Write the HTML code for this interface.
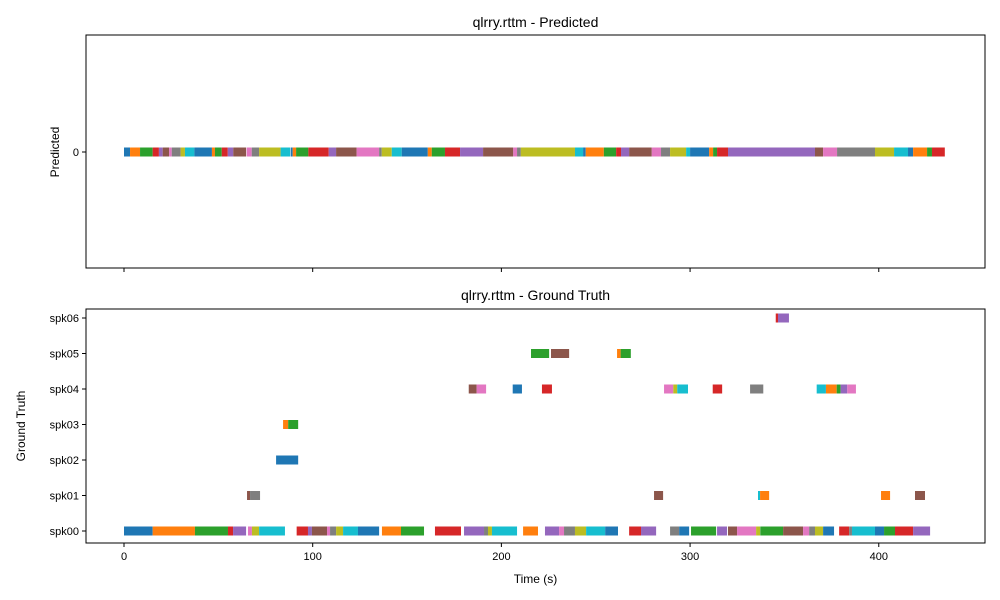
<!DOCTYPE html>
<html><head><meta charset="utf-8"><style>
body{margin:0;background:#fff;}
svg{font-family:"Liberation Sans","DejaVu Sans",sans-serif;display:block}
</style></head><body>
<svg id="chart" width="1000" height="600" viewBox="0 0 1000 600" xmlns="http://www.w3.org/2000/svg"></svg>
<script>
const predStart=[0,3.2,8.5,15.2,18.5,20.5,23.9,25.3,30,32.3,37.3,46.6,48.2,51.8,55,57.9,65,67.7,71.6,83,88.3,89.4,91.2,97.7,108.5,112.4,123.3,135.2,136.6,141.9,147.2,161,163.1,170.1,178.1,190.3,206.3,208.3,210.3,239,243.3,244.7,254.3,260.8,263.4,267.7,279.7,284.6,289.4,297.9,300,310.1,312.2,314.3,320.1,366.2,370.5,377.9,398,408.1,415.5,418.2,425.6,428.2];
const predEnd=[3.2,8.5,15.2,18.5,20.5,23.9,25.3,30,32.3,37.3,46.6,48.2,51.8,55,57.9,64.7,67.7,71.6,83,88,89.4,91.2,97.7,108.5,112.4,123.3,135.2,136.6,141.9,147.2,161,163.1,170.1,178.1,190.3,206.3,208.3,210.3,239,243.3,244.7,254.3,260.8,263.4,267.7,279.7,284.6,289.4,297.9,300,310.1,312.2,314.3,320.1,366.2,370.5,377.9,398,408.1,415.5,418.2,425.6,428.2,435];
const speakers=["spk00","spk01","spk02","spk03","spk04","spk05","spk06"];
const gtSpk=[
0,0,0,0,0,0,0,0,0,0,
0,0,0,0,0,0,0,0,0,0,
0,0,0,0,0,0,0,0,0,0,
0,0,0,0,0,0,0,0,0,0,
0,0,0,0,0,0,0,0,0,0,
0,0,
1,1,1,1,1,1,1,
2,
3,3,
4,4,4,4,4,4,4,4,4,4,4,4,4,4,
5,5,5,5,
6,6];
const gtStart=[0,15.2,37.6,55.1,57.8,65.7,67.8,71.6,91.5,97.5,99.6,107.6,109.2,112.4,116.1,124,136.7,146.8,164.8,180.2,190.8,192.9,195,211.5,223.1,230.6,233.2,239,244.9,255,267.7,274,289.4,294.2,300.5,314.3,320.1,324.9,335,337.2,349.3,359.9,363.1,366.2,370.5,379,384.3,385.8,398,402.8,408.6,418.2,
65.2,66.8,280.9,336,337.1,401.2,419.2,
80.6,
84.3,87,
182.7,186.9,206,221.5,286.2,291.1,293.2,312,331.8,367.1,372,377.7,379.8,383.3,
215.7,226.3,261.3,263.2,
345.4,346.6];
const gtEnd=[15.2,37.6,55.1,57.8,64.7,67.8,71.6,85.3,97.5,99.6,107.6,109.2,112.4,116.1,124,135.2,146.8,159,178.6,190.8,192.9,195,208.3,219.4,230.6,233.2,239,244.9,255,261.8,274,282,294.2,299.5,313.8,319.6,324.9,335,337.1,349.3,359.9,363.1,366.2,370.5,376.3,384.3,385.8,398,402.8,408.6,418.2,427.2,
66.8,72.1,285.7,337.1,341.9,406,424.5,
92.3,
87,92.3,
186.9,191.9,210.9,226.8,291.1,293.2,298.9,317,338.8,372,377.7,379.8,383.3,387.9,
225.3,235.9,263.2,268.6,
346.6,352.4];
const gtColor=[0,1,2,3,4,6,8,9,3,4,5,6,7,8,9,0,1,2,3,4,7,8,9,1,4,6,7,8,9,0,3,4,7,0,2,4,5,6,8,2,5,6,7,8,0,3,7,9,0,2,3,4,
5,7,5,9,1,1,5,
0,
1,2,
5,6,0,3,6,8,9,3,7,9,1,2,4,6,
2,5,1,2,
3,4];
const xTicks=[0,100,200,300,400];
</script>
<script>
const pal=["#1f77b4","#ff7f0e","#2ca02c","#d62728","#9467bd","#8c564b","#e377c2","#7f7f7f","#bcbd22","#17becf"];
const svg=document.getElementById('chart');
const NS="http://www.w3.org/2000/svg";
const X0=86,X1=985,xmin=-20.14,xmax=456.3;
function xs(v){return X0+(v-xmin)/(xmax-xmin)*(X1-X0);}
function yb(v){return 531-35.5*v;}
function mk(tag,attrs,parent){const e=document.createElementNS(NS,tag);for(const k in attrs)e.setAttribute(k,attrs[k]);(parent||svg).appendChild(e);return e;}
function txt(s,attrs){const t=mk('text',attrs);t.textContent=s;return t;}
const topPanel=mk('g',{});


for(let i=0;i<predStart.length;i++){
  const r=mk('rect',{x:xs(predStart[i]),y:147.5,width:Math.max(0.5,xs(predEnd[i])-xs(predStart[i])),height:9,fill:pal[i%10]},topPanel);
  
  
}
const f1=mk('rect',{x:X0,y:35,width:X1-X0,height:233,fill:'none',stroke:'#000','stroke-width':1});


mk('line',{x1:X0-4,x2:X0,y1:152,y2:152,stroke:'#000'});
const t0=txt('0',{x:X0-7,y:156,'font-size':11,'text-anchor':'end'});


xTicks.forEach(v=>{mk('line',{x1:xs(v),x2:xs(v),y1:268,y2:272,stroke:'#000'});});
const tt=txt('qlrry.rttm - Predicted',{x:535.5,y:27,'font-size':14,'text-anchor':'middle'});


const yl=txt('Predicted',{x:0,y:0,'font-size':12,'text-anchor':'middle',transform:'translate(59,152) rotate(-90)'});


const botPanel=mk('g',{});


for(let i=0;i<gtStart.length;i++){
  const r=mk('rect',{x:xs(gtStart[i]),y:yb(gtSpk[i])-4.5,width:Math.max(0.5,xs(gtEnd[i])-xs(gtStart[i])),height:9,fill:pal[gtColor[i]]},botPanel);
  
  
}
const f2=mk('rect',{x:X0,y:309,width:X1-X0,height:234,fill:'none',stroke:'#000','stroke-width':1});


speakers.forEach((s,i)=>{
  mk('line',{x1:X0-4,x2:X0,y1:yb(i),y2:yb(i),stroke:'#000'});
  const l=txt(s,{x:X0-7,y:yb(i)+4,'font-size':11,'text-anchor':'end'});
  
  
});
xTicks.forEach(v=>{
  mk('line',{x1:xs(v),x2:xs(v),y1:543,y2:547,stroke:'#000'});
  const l=txt(String(v),{x:xs(v),y:560,'font-size':11,'text-anchor':'middle'});
  
  
});
const t2=txt('qlrry.rttm - Ground Truth',{x:535.5,y:300,'font-size':14,'text-anchor':'middle'});


const xl=txt('Time (s)',{x:535.5,y:583,'font-size':12,'text-anchor':'middle'});


const yl2=txt('Ground Truth',{x:0,y:0,'font-size':12,'text-anchor':'middle',transform:'translate(25,426) rotate(-90)'});


</script>
</body></html>
